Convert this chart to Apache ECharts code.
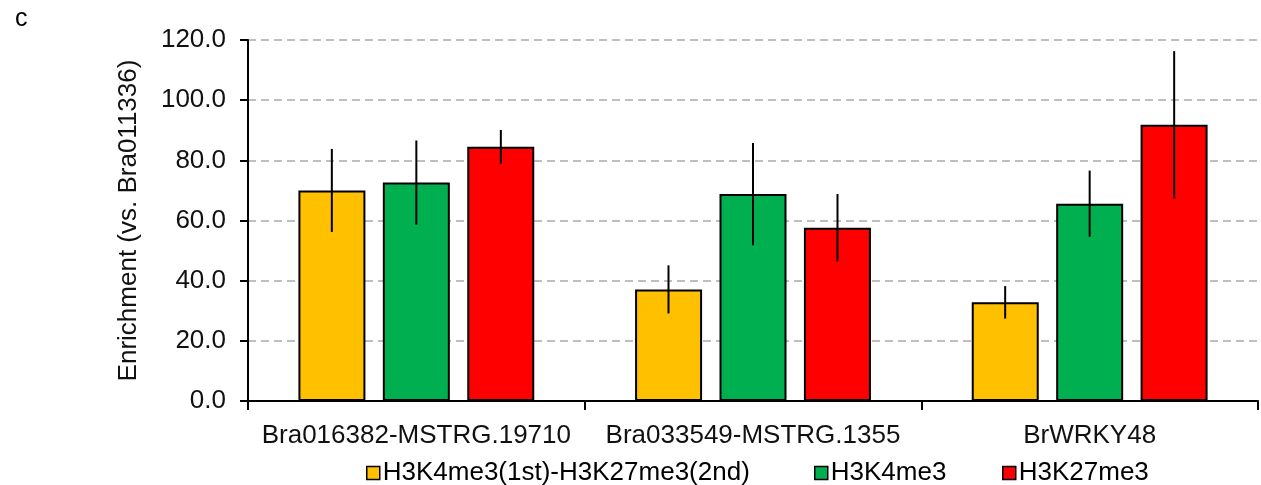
<!DOCTYPE html>
<html>
<head>
<meta charset="utf-8">
<script src="https://cdn.jsdelivr.net/npm/echarts@6/dist/echarts.min.js"></script>
<style>
html,body{margin:0;padding:0;background:#fff;}
#chart{width:1261px;height:485px;}
</style>
</head>
<body>
<div id="chart"></div>
<script>
// ---- data ----
const categories = ['Bra016382-MSTRG.19710', 'Bra033549-MSTRG.1355', 'BrWRKY48'];
const seriesNames = ['H3K4me3(1st)-H3K27me3(2nd)', 'H3K4me3', 'H3K27me3'];
const seqChipValues = [70.0, 37.1, 32.8];
const seqChipErrors = [13.8, 8.0, 5.4];
const h3k4Values = [72.6, 68.8, 65.6];
const h3k4Errors = [14.0, 17.0, 11.0];
const h3k27Values = [84.5, 57.6, 91.8];
const h3k27Errors = [5.6, 11.2, 24.5];
const yTicks = ['0.0', '20.0', '40.0', '60.0', '80.0', '100.0', '120.0'];

const colors = ['#FFC000', '#00B050', '#FF0000'];
const valuesList = [seqChipValues, h3k4Values, h3k27Values];
const errorsList = [seqChipErrors, h3k4Errors, h3k27Errors];

const FONT = 'Liberation Sans, Arial, sans-serif';
const BAR_W = 67;
const STEP = 84.5;

const chart = echarts.init(document.getElementById('chart'), null, {renderer: 'canvas'});

const series = [];
valuesList.forEach((vals, i) => {
  series.push({
    name: seriesNames[i],
    type: 'bar',
    barWidth: BAR_W,
    barGap: '26%',
    data: vals,
    itemStyle: {color: colors[i], borderColor: '#000', borderWidth: 2},
    z: 2
  });
});
valuesList.forEach((vals, i) => {
  const errs = errorsList[i];
  series.push({
    type: 'custom',
    name: seriesNames[i] + ' err',
    data: vals.map((v, k) => [k, v - errs[k], v + errs[k]]),
    encode: {x: 0, y: [1, 2]},
    z: 5,
    silent: true,
    renderItem: function (params, api) {
      const k = api.value(0);
      const lo = api.coord([k, api.value(1)]);
      const hi = api.coord([k, api.value(2)]);
      const dx = (i - 1) * STEP;
      return {
        type: 'line',
        shape: {x1: lo[0] + dx, y1: lo[1], x2: hi[0] + dx, y2: hi[1]},
        style: {stroke: '#000', lineWidth: 2}
      };
    }
  });
});

const legendItem = (name, left, i) => ({
  data: [{name: name, itemStyle: {color: colors[i], borderColor: '#000', borderWidth: 1.5}}],
  left: left,
  top: 460,
  padding: 0,
  itemWidth: 13,
  itemHeight: 13,
  itemGap: 0,
  icon: 'rect',
  textStyle: {fontFamily: FONT, fontSize: 26, color: '#000', padding: [0, 0, 0, -2]},
  selectedMode: false
});

const option = {
  animation: false,
  backgroundColor: '#fff',
  title: {
    text: 'c', left: 10, top: 2,
    textStyle: {fontFamily: FONT, fontSize: 25, fontWeight: 'normal', color: '#000'}
  },
  legend: [
    legendItem(seriesNames[0], 366, 0),
    legendItem(seriesNames[1], 814, 1),
    legendItem(seriesNames[2], 1002, 2)
  ],
  grid: {left: 248, right: 3, top: 40, bottom: 84, containLabel: false},
  xAxis: {
    type: 'category',
    data: categories,
    axisLine: {lineStyle: {color: '#000', width: 2}},
    axisTick: {show: true, length: 9, lineStyle: {color: '#000', width: 2}},
    axisLabel: {fontFamily: FONT, fontSize: 26, color: '#111', margin: 22, interval: 0, hideOverlap: false},
    splitLine: {show: false}
  },
  yAxis: {
    type: 'value',
    min: 0, max: 120, interval: 20,
    name: 'Enrichment (vs. Bra011336)',
    nameLocation: 'middle',
    nameGap: 106,
    nameRotate: 90,
    nameTextStyle: {fontFamily: FONT, fontSize: 26, color: '#111'},
    axisLine: {show: true, lineStyle: {color: '#000', width: 2}},
    axisTick: {show: true, length: 8, lineStyle: {color: '#000', width: 2}},
    axisLabel: {
      fontFamily: FONT, fontSize: 26, color: '#111', margin: 22,
      formatter: function (v) { return yTicks[Math.round(v / 20)]; }
    },
    splitLine: {show: true, lineStyle: {color: '#BFBFBF', width: 2, type: [8, 5]}}
  },
  series: series
};

chart.setOption(option);
</script>
</body>
</html>
